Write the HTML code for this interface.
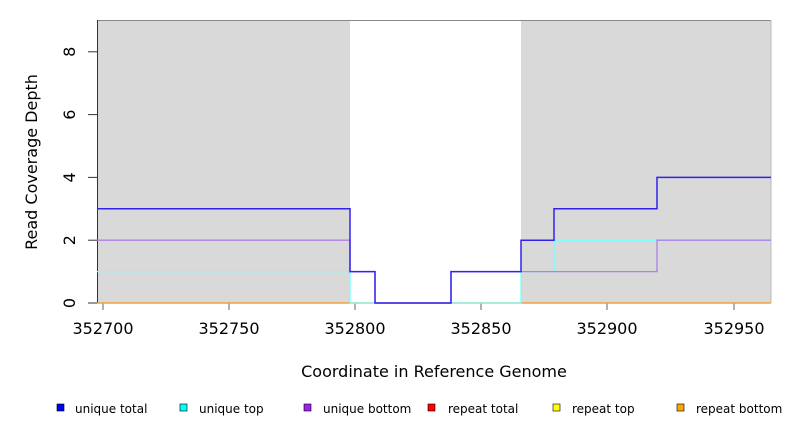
<!DOCTYPE html>
<html><head><meta charset="utf-8"><style>body{margin:0;background:#fff}svg{display:block}</style></head><body>
<svg width="792" height="432" xmlns="http://www.w3.org/2000/svg" font-family="DejaVu Sans, Liberation Sans, sans-serif">
<rect x="97" y="20" width="253" height="283" fill="#d9d9d9"/>
<rect x="521" y="20" width="250" height="283" fill="#d9d9d9"/>
<line x1="97" y1="20.5" x2="771" y2="20.5" stroke="#888" stroke-width="1"/>
<line x1="771" y1="20" x2="771" y2="303" stroke="#bbb" stroke-width="1"/>
<line x1="97.5" y1="20" x2="97.5" y2="303" stroke="#333" stroke-width="1"/>
<g stroke="#333"><line x1="88" y1="303" x2="97" y2="303"/><line x1="88" y1="240.2" x2="97" y2="240.2"/><line x1="88" y1="177.4" x2="97" y2="177.4"/><line x1="88" y1="114.6" x2="97" y2="114.6"/><line x1="88" y1="51.8" x2="97" y2="51.8"/></g>
<g font-size="16" fill="#000" text-anchor="middle">
<text transform="translate(75,303) rotate(-90)">0</text>
<text transform="translate(75,240.2) rotate(-90)">2</text>
<text transform="translate(75,177.4) rotate(-90)">4</text>
<text transform="translate(75,114.6) rotate(-90)">6</text>
<text transform="translate(75,51.8) rotate(-90)">8</text>
<text transform="translate(37,162) rotate(-90)">Read Coverage Depth</text>
</g>
<g stroke="#999" stroke-width="1.5"><line x1="103" y1="303" x2="103" y2="310"/><line x1="229" y1="303" x2="229" y2="310"/><line x1="355" y1="303" x2="355" y2="310"/><line x1="481" y1="303" x2="481" y2="310"/><line x1="607" y1="303" x2="607" y2="310"/><line x1="734" y1="303" x2="734" y2="310"/></g>
<g font-size="16" fill="#000" text-anchor="middle">
<text x="103" y="334">352700</text><text x="229" y="334">352750</text><text x="355" y="334">352800</text><text x="481" y="334">352850</text><text x="607" y="334">352900</text><text x="734" y="334">352950</text>
<text x="434" y="377">Coordinate in Reference Genome</text>
</g>
<line x1="97" y1="303" x2="771" y2="303" stroke="#f4a040" stroke-width="1.5"/>
<polyline fill="none" stroke="#7ff" stroke-width="1.3" points="97,271.6 350,271.6 350,303 521,303 521,271.6 554,271.6 554,240.2 771,240.2"/>
<polyline fill="none" stroke="#b07ee8" stroke-width="1.3" points="97,240.2 350,240.2 350,271.6 375,271.6 375,303 451,303 451,271.6 657,271.6 657,240.2 771,240.2"/>
<polyline fill="none" stroke="#3322ee" stroke-width="1.5" points="97,208.8 350,208.8 350,271.6 375,271.6 375,303 451,303 451,271.6 521,271.6 521,240.2 554,240.2 554,208.8 657,208.8 657,177.4 771,177.4"/>
<g font-size="12" fill="#000" stroke="#000" stroke-width="0.6">
<rect x="57" y="404" width="7" height="7" fill="#00f"/><text x="75" y="413" stroke="none">unique total</text>
<rect x="180" y="404" width="7" height="7" fill="#0ff"/><text x="199" y="413" stroke="none">unique top</text>
<rect x="304" y="404" width="7" height="7" fill="#a020f0"/><text x="323" y="413" stroke="none">unique bottom</text>
<rect x="428" y="404" width="7" height="7" fill="#f00"/><text x="448" y="413" stroke="none">repeat total</text>
<rect x="553" y="404" width="7" height="7" fill="#ff0"/><text x="572" y="413" stroke="none">repeat top</text>
<rect x="677" y="404" width="7" height="7" fill="#ffa500"/><text x="696" y="413" stroke="none">repeat bottom</text>
</g>
</svg>
</body></html>
